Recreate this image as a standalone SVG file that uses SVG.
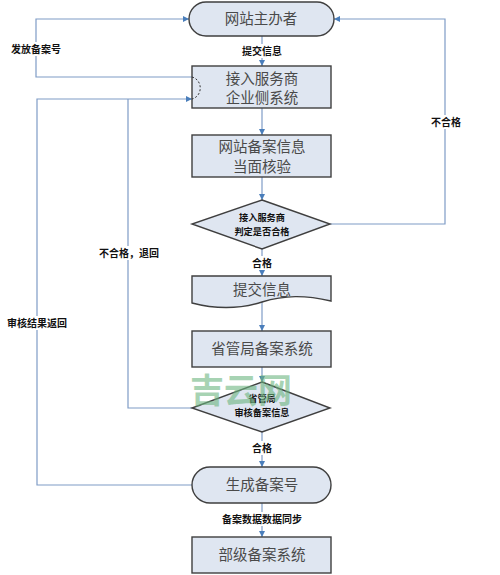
<svg xmlns="http://www.w3.org/2000/svg" width="500" height="575" viewBox="0 0 500 575">
<style>
.n{fill:#dfe6f1;stroke:#3f3f3f;stroke-width:1.4}
.t{font-family:"Noto Sans CJK SC","Liberation Sans",sans-serif;font-size:14.5px;fill:#4a4a4a;text-anchor:middle}
.c{fill:none;stroke:#7f9cc6;stroke-width:1.2}
.l{font-family:"Noto Sans CJK SC","Liberation Sans",sans-serif;font-size:10px;font-weight:bold;fill:#111;text-anchor:middle}
.d{font-family:"Noto Sans CJK SC","Liberation Sans",sans-serif;font-size:9.2px;font-weight:bold;fill:#111;text-anchor:middle}
.bg{fill:#fff}
</style>
<defs>
<marker id="a" viewBox="0 0 10 10" refX="10" refY="5" markerWidth="6" markerHeight="6" orient="auto" markerUnits="userSpaceOnUse">
<path d="M0,0 L10,5 L0,10 Z" fill="#4a7ebb"/>
</marker>
</defs>
<rect width="500" height="575" fill="#fff"/>
<g id="connectors">
<path class="c" d="M262,36 V66" marker-end="url(#a)"/>
<path class="c" d="M262,108 V135" marker-end="url(#a)"/>
<path class="c" d="M262,177 V200" marker-end="url(#a)"/>
<path class="c" d="M262,249 V276" marker-end="url(#a)"/>
<path class="c" d="M262,301 V331" marker-end="url(#a)"/>
<path class="c" d="M262,367 V382" marker-end="url(#a)"/>
<path class="c" d="M262,432 V467" marker-end="url(#a)"/>
<path class="c" d="M262,503 V537" marker-end="url(#a)"/>
<path class="c" d="M330,224 H445 V19 H334" marker-end="url(#a)"/>
<path class="c" d="M192,77 H36 V19 H189" marker-end="url(#a)"/>
<path class="c" d="M192,485 H37 V99 H192" marker-end="url(#a)"/>
<path class="c" d="M192,408 H128 V99"/>
<rect class="bg" x="240" y="44" width="44" height="14"/>
<text class="l" x="262" y="55">提交信息</text>
<rect class="bg" x="251" y="256" width="22" height="14"/>
<text class="l" x="262" y="267">合格</text>
<rect class="bg" x="251" y="441" width="22" height="14"/>
<text class="l" x="262" y="452">合格</text>
<rect class="bg" x="222" y="512" width="80" height="14"/>
<text class="l" x="262" y="523">备案数据数据同步</text>
<rect class="bg" x="430" y="115" width="32" height="14"/>
<text class="l" x="446" y="126">不合格</text>
<rect class="bg" x="10" y="42" width="52" height="14"/>
<text class="l" x="36" y="53">发放备案号</text>
<rect class="bg" x="7" y="316" width="60" height="14"/>
<text class="l" x="37" y="327">审核结果返回</text>
<rect class="bg" x="99" y="246" width="60" height="14"/>
<text class="l" x="129" y="257">不合格，退回</text>
</g>
<g id="node1">
<rect class="n" x="189" y="2" width="145" height="34" rx="17"/>
<text class="t" x="261" y="24">网站主办者</text>
</g>
<g id="node2">
<rect class="n" x="192" y="66" width="139" height="42"/>
<text class="t" x="262" y="84">接入服务商</text>
<text class="t" x="262" y="103">企业侧系统</text>
<path d="M192,77 C203,80 203,96 192,99" fill="none" stroke="#333" stroke-width="1" stroke-dasharray="2,2"/>
</g>
<g id="node3">
<rect class="n" x="192" y="135" width="139" height="42"/>
<text class="t" x="262" y="152">网站备案信息</text>
<text class="t" x="262" y="172">当面核验</text>
</g>
<g id="decision1">
<polygon class="n" points="262,200 330,224 262,249 192,224"/>
<text class="d" x="262" y="221">接入服务商</text>
<text class="d" x="262" y="234.5">判定是否合格</text>
</g>
<g id="doc">
<path class="n" d="M192,276 H331 V301 C305,295 285,295 262,302 C240,309 215,309 192,303 Z"/>
<text class="t" x="262" y="295">提交信息</text>
</g>
<g id="node5">
<rect class="n" x="192" y="331" width="139" height="36"/>
<text class="t" x="262" y="354">省管局备案系统</text>
</g>
<g id="decision2">
<polygon class="n" points="262,382 330,408 262,432 192,408"/>
<text class="d" x="262" y="402">省管局</text>
<text class="d" x="262" y="416">审核备案信息</text>
</g>
<g id="node6">
<rect class="n" x="192" y="467" width="139" height="36" rx="18"/>
<text class="t" x="262" y="490">生成备案号</text>
</g>
<g id="node7">
<rect class="n" x="192" y="537" width="139" height="36"/>
<text class="t" x="262" y="560">部级备案系统</text>
</g>
<text x="241" y="403" font-family="Noto Sans CJK SC,sans-serif" font-size="34" font-weight="bold" fill="#6cb57f" fill-opacity="0.6" text-anchor="middle">吉云网</text>
</svg>
